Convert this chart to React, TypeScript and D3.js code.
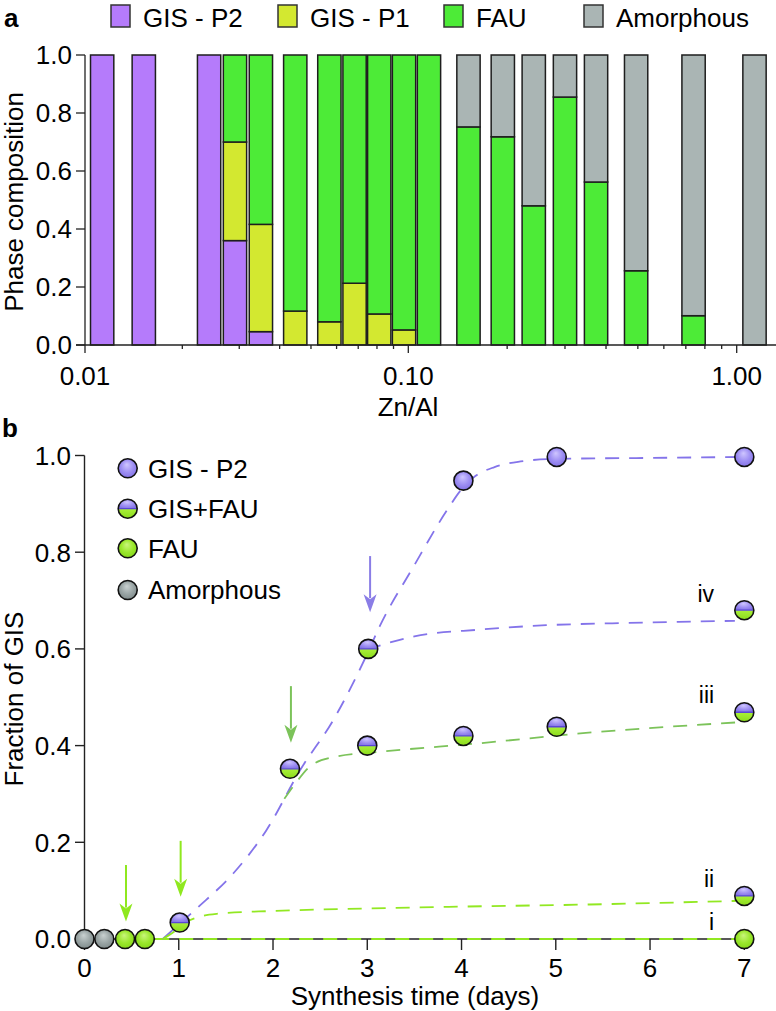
import React from "react";
import * as d3 from "d3";

// ---------- Panel a data ----------
const znAl = [0.0113, 0.0152, 0.0242, 0.0291, 0.035, 0.0447, 0.057, 0.0682, 0.0813, 0.097, 0.1156, 0.1525, 0.194, 0.241, 0.3, 0.373, 0.494, 0.739, 1.133];
const gisP2 = [1, 1, 1, 0.36, 0.046, 0, 0, 0, 0, 0, 0, 0, 0, 0, 0, 0, 0, 0, 0];
const gisP1 = [0, 0, 0, 0.34, 0.37, 0.117, 0.08, 0.213, 0.107, 0.052, 0, 0, 0, 0, 0, 0, 0, 0, 0];
const fau = [0, 0, 0, 0.3, 0.584, 0.883, 0.92, 0.787, 0.893, 0.948, 1, 0.752, 0.718, 0.48, 0.855, 0.562, 0.256, 0.101, 0];
const amorphous = [0, 0, 0, 0, 0, 0, 0, 0, 0, 0, 0, 0.248, 0.282, 0.52, 0.145, 0.438, 0.744, 0.899, 1];
const phaseKeys = ["GIS - P2", "GIS - P1", "FAU", "Amorphous"];
const phaseColors = ["#b57bfb", "#d3e830", "#4deb37", "#aab5b4"];
const aXTicks = [0.01, 0.02, 0.03, 0.04, 0.05, 0.06, 0.07, 0.08, 0.09, 0.1, 0.2, 0.3, 0.4, 0.5, 0.6, 0.7, 0.8, 0.9, 1];
const aXLabels = [
  { v: 0.01, t: "0.01" },
  { v: 0.1, t: "0.10" },
  { v: 1, t: "1.00" },
];
const aYTicks = [0, 0.2, 0.4, 0.6, 0.8, 1];

// ---------- Panel b data ----------
const amorphousPts: [number, number][] = [[0, 0], [0.21, 0]];
const fauPts: [number, number][] = [[0.43, 0], [0.64, 0], [7, 0]];
const gisPts: [number, number][] = [[4.02, 0.948], [5.01, 0.997], [7, 0.997]];
const mixedPts: [number, number][] = [[1.01, 0.034], [2.18, 0.352], [3.01, 0.6], [3.0, 0.4], [4.02, 0.42], [5.01, 0.439], [7, 0.469], [7, 0.68], [7, 0.089]];

const curveGis: [number, number][] = [[0.83, 0], [1.0, 0.03], [1.2, 0.065], [1.58, 0.136], [1.93, 0.225], [2.29, 0.35], [2.64, 0.453], [3.0, 0.59], [3.13, 0.646], [3.49, 0.77], [3.84, 0.885], [4.0, 0.93], [4.15, 0.958], [4.35, 0.976], [4.6, 0.987], [5.0, 0.993], [6.0, 0.995], [7.0, 0.997]];
const curveIv: [number, number][] = [[3.0, 0.598], [3.15, 0.608], [3.5, 0.626], [4.2, 0.64], [4.9, 0.649], [5.6, 0.653], [6.3, 0.656], [6.9, 0.658]];
const curveIii: [number, number][] = [[2.12, 0.29], [2.25, 0.325], [2.4, 0.358], [2.64, 0.376], [3.13, 0.387], [4.2, 0.405], [5.19, 0.424], [6.92, 0.448]];
const curveIi: [number, number][] = [[0.83, 0], [0.95, 0.015], [1.05, 0.032], [1.2, 0.045], [1.4, 0.052], [2.0, 0.058], [3.0, 0.063], [4.0, 0.067], [5.26, 0.071], [6.95, 0.079]];
const curveI: [number, number][] = [[0.75, 0], [7, 0]];

const arrows = [
  { day: 0.44, from: 0.153, to: 0.036, color: "#8fe81f" },
  { day: 1.02, from: 0.203, to: 0.0875, color: "#8fe81f" },
  { day: 2.19, from: 0.523, to: 0.406, color: "#7cc35a" },
  { day: 3.03, from: 0.792, to: 0.676, color: "#8a7de6" },
];
const curveLabels = [
  { t: "iv", day: 6.68, v: 0.698 },
  { t: "iii", day: 6.68, v: 0.4875 },
  { t: "ii", day: 6.68, v: 0.108 },
  { t: "i", day: 6.68, v: 0.0186 },
];
const bXTicks = [0, 1, 2, 3, 4, 5, 6, 7];
const bYTicks = [0, 0.2, 0.4, 0.6, 0.8, 1];
const legendB = ["GIS - P2", "GIS+FAU", "FAU", "Amorphous"];

const FONT = "'Liberation Sans', Arial, Helvetica, sans-serif";
const PURPLE_LINE = "#8474ea";
const GREEN_DARK = "#7cc35a";
const GREEN_BRIGHT = "#92e822";

function Marker({ cx, cy, kind, r = 9.5 }: { cx: number; cy: number; kind: string; r?: number }) {
  if (kind === "mixed") {
    const id = `clip-${Math.round(cx * 10)}-${Math.round(cy * 10)}`;
    return (
      <g>
        <clipPath id={id}>
          <circle cx={cx} cy={cy} r={r} />
        </clipPath>
        <g clipPath={`url(#${id})`}>
          <rect x={cx - r} y={cy - r} width={2 * r} height={r} fill="url(#gPurple)" />
          <rect x={cx - r} y={cy} width={2 * r} height={r} fill="url(#gGreenHalf)" />
          <line x1={cx - r} x2={cx + r} y1={cy} y2={cy} stroke="#5a46d6" strokeWidth={1.3} />
        </g>
        <circle cx={cx} cy={cy} r={r} fill="none" stroke="#111" strokeWidth={1.6} />
      </g>
    );
  }
  const fill = kind === "gis" ? "url(#gPurple)" : kind === "fau" ? "url(#gGreen)" : "url(#gGray)";
  return <circle cx={cx} cy={cy} r={r} fill={fill} stroke="#111" strokeWidth={1.6} />;
}

export default function App() {
  // ---- panel a scales ----
  const xA = d3.scaleLog().domain([0.01, 0.1, 1]).range([85, 408.3, 736.7]);
  const yA = d3.scaleLinear().domain([0, 1]).range([345, 55]);
  const barW = 23.3;
  const rows = znAl.map((z, i) => ({
    z,
    "GIS - P2": gisP2[i],
    "GIS - P1": gisP1[i],
    FAU: fau[i],
    Amorphous: amorphous[i],
  }));
  const stacked = d3.stack<any>().keys(phaseKeys)(rows);

  // ---- panel b scales ----
  const xB = d3.scaleLinear().domain([0, 7]).range([84.5, 744.3]);
  const yB = d3.scaleLinear().domain([0, 1]).range([939, 455.5]);
  const line = d3
    .line<[number, number]>()
    .x((d) => xB(d[0]))
    .y((d) => yB(d[1]))
    .curve(d3.curveMonotoneX);

  const dash = "14 10";

  return (
    <svg
      width={776}
      height={1011}
      style={{ position: "absolute", left: 0, top: 0, background: "#fff" }}
      fontFamily={FONT}
    >
      <defs>
        <radialGradient id="gPurple" cx="50%" cy="45%" r="55%" fx="45%" fy="30%">
          <stop offset="0%" stopColor="#cfc6ff" />
          <stop offset="60%" stopColor="#9e8ff3" />
          <stop offset="100%" stopColor="#8473e6" />
        </radialGradient>
        <radialGradient id="gGreen" cx="50%" cy="45%" r="55%" fx="45%" fy="30%">
          <stop offset="0%" stopColor="#c9f57c" />
          <stop offset="60%" stopColor="#9ae72c" />
          <stop offset="100%" stopColor="#86d81a" />
        </radialGradient>
        <linearGradient id="gGreenHalf" x1="0" y1="0" x2="0" y2="1">
          <stop offset="0%" stopColor="#aaf03a" />
          <stop offset="100%" stopColor="#8bdc1c" />
        </linearGradient>
        <radialGradient id="gGray" cx="50%" cy="45%" r="55%" fx="45%" fy="30%">
          <stop offset="0%" stopColor="#c9d1d1" />
          <stop offset="60%" stopColor="#9aa5a5" />
          <stop offset="100%" stopColor="#808c8c" />
        </radialGradient>
      </defs>

      {/* ================= Panel a ================= */}
      <text x={4} y={27} fontSize={26} fontWeight="bold">a</text>
      {/* legend a */}
      {phaseKeys.map((k, i) => {
        const xs = [111, 278, 444, 584][i];
        return (
          <g key={k}>
            <rect x={xs} y={5} width={19} height={22} fill={phaseColors[i]} stroke="#333" strokeWidth={1.5} />
            <text x={xs + 32} y={27} fontSize={26}>{k}</text>
          </g>
        );
      })}

      {/* bars */}
      {stacked.map((s, si) => (
        <g key={s.key}>
          {s.map((d, i) =>
            d[1] - d[0] > 0.0001 ? (
              <rect
                key={i}
                x={xA(znAl[i]) - barW / 2}
                y={yA(d[1])}
                width={barW}
                height={yA(d[0]) - yA(d[1])}
                fill={phaseColors[si]}
                stroke="#1e1e1e"
                strokeWidth={1.5}
              />
            ) : null
          )}
        </g>
      ))}

      {/* axes a */}
      <line x1={85} x2={85} y1={yA(1)} y2={yA(0)} stroke="#222" strokeWidth={1.3} />
      {aYTicks.map((t) => (
        <g key={t}>
          <line x1={76} x2={85} y1={yA(t)} y2={yA(t)} stroke="#222" strokeWidth={1.3} />
          <text x={72} y={yA(t)} dy="0.36em" textAnchor="end" fontSize={26}>
            {t.toFixed(1)}
          </text>
        </g>
      ))}
      <line x1={76} x2={776} y1={yA(0)} y2={yA(0)} stroke="#222" strokeWidth={1.5} />
      {aXTicks.map((t) => {
        const major = t === 0.01 || t === 0.1 || t === 1;
        return (
          <line key={t} x1={xA(t)} x2={xA(t)} y1={yA(0)} y2={yA(0) + (major ? 8 : 4)} stroke="#222" strokeWidth={1.3} />
        );
      })}
      {aXLabels.map((l) => (
        <text key={l.t} x={xA(l.v)} y={385} textAnchor="middle" fontSize={26}>
          {l.t}
        </text>
      ))}
      <text x={408} y={416} textAnchor="middle" fontSize={26}>Zn/Al</text>
      <text transform="translate(23,202) rotate(-90)" textAnchor="middle" fontSize={26}>
        Phase composition
      </text>

      {/* ================= Panel b ================= */}
      <text x={2} y={437} fontSize={26} fontWeight="bold">b</text>

      {/* axes b */}
      <line x1={xB(0)} x2={xB(0)} y1={yB(1)} y2={yB(0)} stroke="#222" strokeWidth={1.4} />
      <line x1={xB(0)} x2={xB(7)} y1={yB(0)} y2={yB(0)} stroke="#222" strokeWidth={1.4} />
      {bYTicks.map((t) => (
        <g key={t}>
          <line x1={75} x2={xB(0)} y1={yB(t)} y2={yB(t)} stroke="#222" strokeWidth={1.4} />
          <text x={71} y={yB(t)} dy="0.36em" textAnchor="end" fontSize={26}>
            {t.toFixed(1)}
          </text>
        </g>
      ))}
      {bXTicks.map((t) => (
        <g key={t}>
          <line x1={xB(t)} x2={xB(t)} y1={yB(0)} y2={yB(0) + 11} stroke="#222" strokeWidth={1.4} />
          <text x={xB(t)} y={977} textAnchor="middle" fontSize={26}>
            {t}
          </text>
        </g>
      ))}
      <text x={415} y={1005} textAnchor="middle" fontSize={26}>Synthesis time (days)</text>
      <text transform="translate(23,699) rotate(-90)" textAnchor="middle" fontSize={26}>
        Fraction of GIS
      </text>

      {/* curves */}
      <path d={line(curveI) || ""} fill="none" stroke={GREEN_BRIGHT} strokeWidth={1.8} strokeDasharray={dash} />
      <path d={line(curveGis) || ""} fill="none" stroke={PURPLE_LINE} strokeWidth={1.8} strokeDasharray={dash} />
      <path d={line(curveIv) || ""} fill="none" stroke={PURPLE_LINE} strokeWidth={1.8} strokeDasharray={dash} />
      <path d={line(curveIii) || ""} fill="none" stroke={GREEN_DARK} strokeWidth={1.8} strokeDasharray={dash} />
      <path d={line(curveIi) || ""} fill="none" stroke={GREEN_BRIGHT} strokeWidth={1.8} strokeDasharray={dash} />

      {/* arrows */}
      {arrows.map((a, i) => {
        const x = xB(a.day);
        const y0 = yB(a.from);
        const y1 = yB(a.to);
        const hl = 18;
        const hw = 6.5;
        return (
          <g key={i}>
            <line x1={x} x2={x} y1={y0} y2={y1 - hl + 4} stroke={a.color} strokeWidth={2} />
            <path
              d={`M${x},${y1} L${x - hw},${y1 - hl} L${x},${y1 - hl + 5} L${x + hw},${y1 - hl} Z`}
              fill={a.color}
            />
          </g>
        );
      })}

      {/* markers */}
      {amorphousPts.map((p, i) => (
        <Marker key={"a" + i} cx={xB(p[0])} cy={yB(p[1])} kind="amorphous" />
      ))}
      {fauPts.map((p, i) => (
        <Marker key={"f" + i} cx={xB(p[0])} cy={yB(p[1])} kind="fau" />
      ))}
      {gisPts.map((p, i) => (
        <Marker key={"g" + i} cx={xB(p[0])} cy={yB(p[1])} kind="gis" />
      ))}
      {mixedPts.map((p, i) => (
        <Marker key={"m" + i} cx={xB(p[0])} cy={yB(p[1])} kind="mixed" />
      ))}

      {/* curve labels */}
      {curveLabels.map((l) => (
        <text key={l.t} x={xB(l.day)} y={yB(l.v)} textAnchor="end" fontSize={23}>
          {l.t}
        </text>
      ))}

      {/* legend b */}
      {legendB.map((k, i) => {
        const cy = [468.3, 508.7, 548.3, 590][i];
        const kind = ["gis", "mixed", "fau", "amorphous"][i];
        return (
          <g key={k}>
            <Marker cx={127.7} cy={cy} kind={kind} />
            <text x={148} y={cy} dy="0.36em" fontSize={26}>
              {k}
            </text>
          </g>
        );
      })}
    </svg>
  );
}
